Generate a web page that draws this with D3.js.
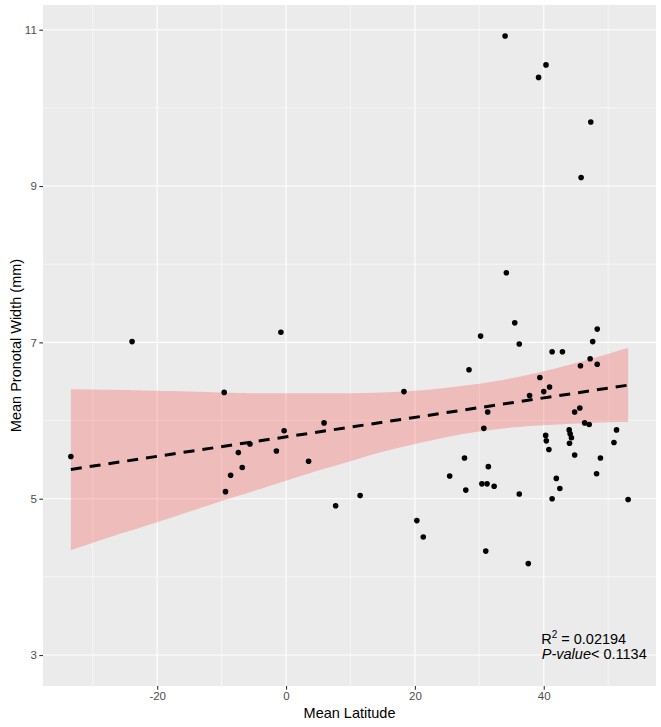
<!DOCTYPE html>
<html>
<head>
<meta charset="utf-8">
<script src="https://cdn.jsdelivr.net/npm/d3@7"></script>
<style>
  body { margin: 0; background: #fff; }
  svg { display: block; font-family: "Liberation Sans", Arial, Helvetica, sans-serif; }
</style>
</head>
<body>
<div id="chart"></div>
<script>
// points
const latitude = [
  -33.4, -23.9, -9.6, -9.4, -8.6, -7.4, -6.8, -5.6, -1.5, -0.8, -0.3, 3.5, 5.9, 7.7, 11.5,
  18.3, 20.3, 21.3, 25.4, 27.7, 27.9, 28.4, 30.2, 30.4, 30.7, 31.0, 31.2, 31.3, 31.4, 32.3,
  34.0, 34.2, 35.5, 36.2, 36.2, 37.6, 37.8, 39.2, 39.4, 40.0, 40.3, 40.35, 40.4, 40.8, 40.9,
  41.3, 41.3, 41.95, 42.5, 42.9, 43.95, 44.1, 44.3, 44.0, 44.8, 44.8, 45.6, 45.7, 45.8,
  46.35, 47.05, 47.2, 47.3, 47.6, 48.2, 48.3, 48.3, 48.8, 50.9, 51.3, 53.1
];
const width = [
  5.54, 7.01, 6.36, 5.09, 5.30, 5.59, 5.40, 5.70, 5.61, 7.13, 5.87, 5.48, 5.97, 4.91, 5.04,
  6.37, 4.72, 4.51, 5.29, 5.52, 5.11, 6.65, 7.08, 5.19, 5.90, 4.33, 5.19, 6.11, 5.41, 5.16,
  10.92, 7.89, 7.25, 6.98, 5.06, 4.17, 6.32, 10.39, 6.55, 6.37, 5.81, 10.55, 5.74, 5.63, 6.43,
  6.88, 5.00, 5.26, 5.13, 6.88, 5.88, 5.83, 5.78, 5.71, 6.11, 5.56, 6.16, 6.70, 9.11,
  5.97, 5.95, 6.79, 9.82, 7.01, 5.32, 6.72, 7.17, 5.52, 5.72, 5.88, 4.99
];

// fitted line and its confidence band
const fitX = [-33.4, 53.1];
const fitY = [5.375, 6.453];
const bandX = [-33.4, -25, -20, -10, -5, 0, 5, 10, 15, 20, 25, 30, 35, 40, 47, 53.1];
const bandLower = [4.34, 4.57, 4.70, 4.97, 5.10, 5.23, 5.36, 5.48, 5.60, 5.70, 5.79, 5.86, 5.91, 5.94, 5.97, 5.98];
const bandUpper = [6.40, 6.39, 6.38, 6.36, 6.35, 6.35, 6.35, 6.35, 6.36, 6.38, 6.42, 6.47, 6.54, 6.63, 6.78, 6.93];

const xTicks = [-20, 0, 20, 40];
const yTicks = [3, 5, 7, 9, 11];
const xMinor = [-30, -10, 10, 30, 50];
const yMinor = [4, 6, 8, 10];

const W = 661, H = 727;
const panel = { left: 43, right: 656, top: 5, bottom: 686 };

// ggplot style 5% expansion
function expand(lo, hi) {
  const d = (hi - lo) * 0.05;
  return [lo - d, hi + d];
}

const x = d3.scaleLinear()
  .domain(expand(d3.min(latitude), d3.max(latitude)))
  .range([panel.left, panel.right]);
const y = d3.scaleLinear()
  .domain(expand(3, d3.max(width)))
  .range([panel.bottom, panel.top]);

const svg = d3.select("#chart").append("svg")
  .attr("width", W)
  .attr("height", H);

svg.append("rect")
  .attr("x", panel.left).attr("y", panel.top)
  .attr("width", panel.right - panel.left)
  .attr("height", panel.bottom - panel.top)
  .attr("fill", "#ebebeb");

const grid = svg.append("g");
grid.selectAll(".xmin").data(xMinor).enter().append("line")
  .attr("x1", d => x(d)).attr("x2", d => x(d))
  .attr("y1", panel.top).attr("y2", panel.bottom)
  .attr("stroke", "#fff").attr("stroke-width", 0.55);
grid.selectAll(".ymin").data(yMinor).enter().append("line")
  .attr("y1", d => y(d)).attr("y2", d => y(d))
  .attr("x1", panel.left).attr("x2", panel.right)
  .attr("stroke", "#fff").attr("stroke-width", 0.55);
grid.selectAll(".xmaj").data(xTicks).enter().append("line")
  .attr("x1", d => x(d)).attr("x2", d => x(d))
  .attr("y1", panel.top).attr("y2", panel.bottom)
  .attr("stroke", "#fff").attr("stroke-width", 1.1);
grid.selectAll(".ymaj").data(yTicks).enter().append("line")
  .attr("y1", d => y(d)).attr("y2", d => y(d))
  .attr("x1", panel.left).attr("x2", panel.right)
  .attr("stroke", "#fff").attr("stroke-width", 1.1);

// confidence band
const band = bandX.map((d, i) => ({ x: d, lo: bandLower[i], hi: bandUpper[i] }));
svg.append("path")
  .datum(band)
  .attr("fill", "#ff0000")
  .attr("fill-opacity", 0.2)
  .attr("d", d3.area()
    .curve(d3.curveNatural)
    .x(d => x(d.x))
    .y0(d => y(d.lo))
    .y1(d => y(d.hi)));

// points
svg.append("g").selectAll("circle")
  .data(latitude.map((d, i) => [d, width[i]]))
  .enter().append("circle")
  .attr("cx", d => x(d[0]))
  .attr("cy", d => y(d[1]))
  .attr("r", 2.8)
  .attr("fill", "#000");

// regression line
svg.append("path")
  .datum(fitX.map((d, i) => [d, fitY[i]]))
  .attr("fill", "none")
  .attr("stroke", "#000")
  .attr("stroke-width", 3)
  .attr("stroke-dasharray", "11,8")
  .attr("d", d3.line().x(d => x(d[0])).y(d => y(d[1])));

// axes
const xAxis = svg.append("g")
  .attr("transform", `translate(0,${panel.bottom})`)
  .call(d3.axisBottom(x).tickValues(xTicks).tickFormat(d => String(d)).tickSize(3.7).tickPadding(2.5));
const yAxis = svg.append("g")
  .attr("transform", `translate(${panel.left},0)`)
  .call(d3.axisLeft(y).tickValues(yTicks).tickFormat(d => String(d)).tickSize(3.7).tickPadding(2.5));
[xAxis, yAxis].forEach(a => {
  a.select(".domain").remove();
  a.selectAll(".tick line").attr("stroke", "#333").attr("stroke-width", 1.1);
  a.selectAll(".tick text")
    .attr("fill", "#4d4d4d")
    .style("font-size", "11.5px")
    .style("font-family", "'Liberation Sans', Arial, sans-serif");
});

svg.append("text")
  .attr("x", (panel.left + panel.right) / 2)
  .attr("y", 718)
  .attr("text-anchor", "middle")
  .style("font-size", "14.5px")
  .text("Mean Latitude");

svg.append("text")
  .attr("transform", `translate(21,${(panel.top + panel.bottom) / 2}) rotate(-90)`)
  .attr("text-anchor", "middle")
  .style("font-size", "14.5px")
  .text("Mean Pronotal Width (mm)");

// annotation
const note = svg.append("text")
  .attr("x", x(39.6))
  .attr("y", y(3.14))
  .style("font-size", "14.5px");
note.append("tspan").text("R");
note.append("tspan").attr("dy", -6).style("font-size", "10px").text("2");
note.append("tspan").attr("dy", 6).text(" = 0.02194");

const note2 = svg.append("text")
  .attr("x", x(39.7))
  .attr("y", y(3.14) + 15)
  .style("font-size", "14.5px");
note2.append("tspan").style("font-style", "italic").text("P-value");
note2.append("tspan").text("< 0.1134");
</script>
</body>
</html>
